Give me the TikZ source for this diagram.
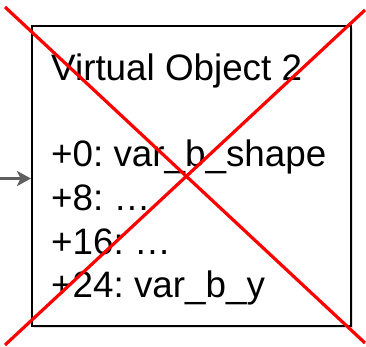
\documentclass[tikz,border=0pt]{standalone}
\usepackage{fontspec}
\setmainfont{Liberation Sans}
\usepackage{tikz}
\usetikzlibrary{positioning,arrows.meta,calc,shadows}
\definecolor{ptrgray}{HTML}{5F5F5F}

\begin{document}
\frenchspacing
\begin{tikzpicture}[
  x=1pt, y=1pt,
  font=\fontsize{36.8}{43.4}\selectfont,
  objbox/.style={draw, line width=2pt, fill=white, minimum width=319pt, minimum height=300pt,
    inner sep=0pt, drop shadow={opacity=0.25, shadow xshift=1.5pt, shadow yshift=-1.5pt}},
  rowtext/.style={anchor=base west, inner sep=0pt},
  arr/.style={-{Stealth[length=14pt, width=15pt, inset=3.5pt]}, line width=3pt, ptrgray},
  cross/.style={red, line width=3.2pt},
  ]
  \useasboundingbox (0,0) rectangle (366,-346);

  % the object
  \node[objbox] (obj) at (191.5,-176) {};
  \node[rowtext] (title) at ($(obj.north west)+(20,-55)$) {Virtual Object 2};
  \node[rowtext] (r0)  at ($(obj.north west)+(20,-141)$) {+0: var\_b\_shape};
  \node[rowtext] (r8)  at ($(obj.north west)+(20,-185)$) {+8: \dots};
  \node[rowtext] (r16) at ($(obj.north west)+(20,-229)$) {+16: \dots};
  \node[rowtext] (r24) at ($(obj.north west)+(20,-272)$) {+24: var\_b\_y};

  % incoming pointer
  \coordinate (src) at (0,-178.5);
  \draw[arr] (src) -- (obj.west |- src);

  % crossed out
  \coordinate (tl) at (5,-7);
  \coordinate (br) at (365,-343);
  \coordinate (tr) at (365,-10);
  \coordinate (bl) at (5,-345);
  \draw[cross] (tl) -- (br);
  \draw[cross] (tr) -- (bl);
\end{tikzpicture}
\end{document}
